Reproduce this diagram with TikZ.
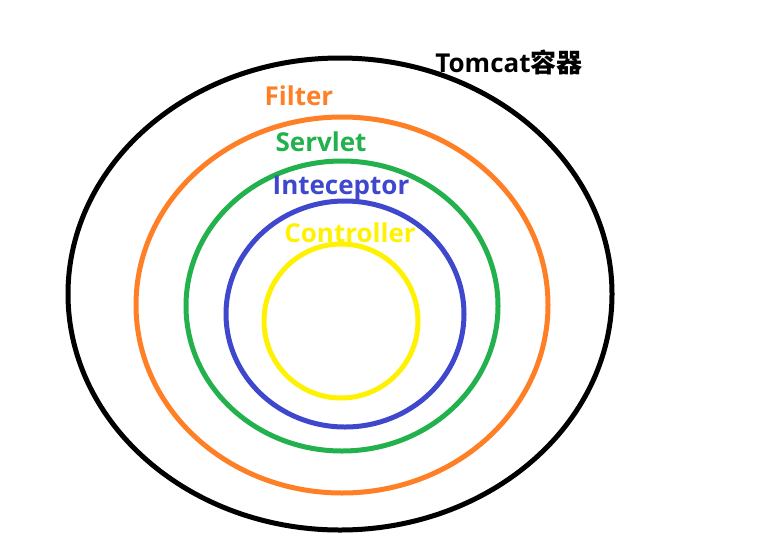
\documentclass[tikz,border=0pt]{standalone}
\usepackage{fontspec}
\setmainfont{Open Sans}
\newfontfamily\cjk{Noto Sans CJK SC}
\usepackage{tikz}

\definecolor{paintorange}{RGB}{255,127,39}
\definecolor{paintgreen}{RGB}{34,177,76}
\definecolor{paintblue}{RGB}{63,72,204}
\definecolor{paintyellow}{RGB}{255,242,0}

\begin{document}
\begin{tikzpicture}[x=1pt,y=-1pt,
	ring/.style={line width=5pt},
	tag/.style={font=\fontsize{26}{26}\selectfont\bfseries, inner sep=0pt}]
	\useasboundingbox (0,0) rectangle (773,536);
	
	% Nested layers, from the container inwards
	\draw[ring, black] (340,294) ellipse [x radius=272, y radius=236];
	\draw[ring, paintorange] (342,305) ellipse [x radius=206, y radius=188];
	\draw[ring, paintgreen] (342,306) ellipse [x radius=156, y radius=145];
	\draw[ring, paintblue] (345,314) ellipse [x radius=119, y radius=113];
	\draw[ring, paintyellow] (341,321) ellipse [x radius=77, y radius=77];
	
	% Layer names
	\node[tag, black] (tomcat) at (509,62) {Tomcat{\cjk 容器}};
	\node[tag, paintorange] (filter) at (299,96) {Filter};
	\node[tag, paintgreen] (servlet) at (321,142) {Servlet};
	\node[tag, paintblue] (interceptor) at (341,188) {Inteceptor};
	\node[tag, paintyellow] (controller) at (350,233) {Controller};
\end{tikzpicture}
\end{document}
